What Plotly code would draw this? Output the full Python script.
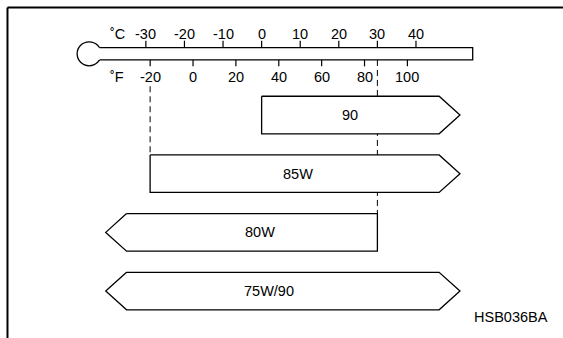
import plotly.graph_objects as go

# ---- data -------------------------------------------------------------
grades = ["90", "85W", "80W", "75W/90"]
low_c = [0.0, -28.9, -35.0, -35.0]      # left end of each bar body (°C); -28.9 °C = -20 °F
high_c = [46.0, 46.0, 30.0, 46.0]       # right end of each bar body (°C)
left_open = [False, False, True, True]  # arrow head on the left (open range)
right_open = [True, True, False, True]  # arrow head on the right (open range)
label_c = [23.0, 9.5, -0.5, 2.0]        # label position (°C)

c_ticks = [-30, -20, -10, 0, 10, 20, 30, 40]
f_ticks = [-20, 0, 20, 40, 60, 80, 100]
dash_c = [-28.9, 30.0]                  # guide lines: -20 °F and 30 °C

bulb_c = -44.7
tube_end_c = 54.7
therm_row = -1.043
code_text = "HSB036BA"

# ---- geometry (style) --------------------------------------------------
HEAD = 5.4      # arrow head length in °C
BH = 0.32       # bar half height in row units
TH = 0.104      # tube half height
FONT = dict(family="Liberation Sans, Arial, sans-serif", size=14.5, color="black")

def f2c(f):
    return (f - 32) * 5.0 / 9.0

fig = go.Figure()

# dashed guide lines (drawn first so bars cover them)
dash_tops = [-0.49, therm_row + TH]
dash_bottoms = [1 - BH, 2 - BH]
for xc, y0, y1 in zip(dash_c, dash_tops, dash_bottoms):
    fig.add_trace(go.Scatter(x=[xc, xc], y=[y0, y1], mode="lines",
                             line=dict(color="black", width=1, dash="6px,4px"),
                             hoverinfo="skip", showlegend=False))

# thermometer bulb
fig.add_trace(go.Scatter(x=[bulb_c], y=[therm_row], mode="markers",
                         marker=dict(size=24, color="white", line=dict(color="black", width=1.3)),
                         hoverinfo="skip", showlegend=False))
# tube fill (hides the bulb outline where the tube joins)
fig.add_trace(go.Scatter(x=[bulb_c, tube_end_c, tube_end_c, bulb_c, bulb_c],
                         y=[therm_row - TH, therm_row - TH, therm_row + TH, therm_row + TH, therm_row - TH],
                         mode="lines", fill="toself", fillcolor="white",
                         line=dict(width=0, color="white"), hoverinfo="skip", showlegend=False))
# tube outline
jx = bulb_c + 10.4 / 3.86
fig.add_trace(go.Scatter(x=[jx, tube_end_c, tube_end_c, jx],
                         y=[therm_row - TH, therm_row - TH, therm_row + TH, therm_row + TH],
                         mode="lines", line=dict(color="black", width=1.3),
                         hoverinfo="skip", showlegend=False))

# tick marks
tx, ty = [], []
for c in c_ticks:
    tx += [c, c, None]
    ty += [therm_row - TH, therm_row - TH - 0.12, None]
for f in f_ticks:
    tx += [f2c(f), f2c(f), None]
    ty += [therm_row + TH, therm_row + TH + 0.11, None]
fig.add_trace(go.Scatter(x=tx, y=ty, mode="lines", line=dict(color="black", width=1.2),
                         hoverinfo="skip", showlegend=False))

# tick labels
ann = []
for c in c_ticks:
    ann.append(dict(x=c, y=-1.38, text=str(c), showarrow=False, font=FONT,
                    xanchor="center", yanchor="middle"))
for f in f_ticks:
    ann.append(dict(x=f2c(f), y=-0.65, text=str(f), showarrow=False, font=FONT,
                    xanchor="center", yanchor="middle"))
ann.append(dict(x=-37.4, y=-1.38, text="˚C", showarrow=False, font=FONT))
ann.append(dict(x=-37.6, y=-0.65, text="˚F", showarrow=False, font=FONT))

# bars (arrow-shaped polygons)
for i, g in enumerate(grades):
    y = i
    xs = [low_c[i], high_c[i]]
    ys = [y - BH, y - BH]
    if right_open[i]:
        xs += [high_c[i] + HEAD]
        ys += [y]
    xs += [high_c[i], low_c[i]]
    ys += [y + BH, y + BH]
    if left_open[i]:
        xs += [low_c[i] - HEAD]
        ys += [y]
    xs += [low_c[i]]
    ys += [y - BH]
    fig.add_trace(go.Scatter(x=xs, y=ys, mode="lines", fill="toself", fillcolor="white",
                             line=dict(color="black", width=1.3),
                             hoverinfo="skip", showlegend=False, name=g))
    ann.append(dict(x=label_c[i], y=y, text=g, showarrow=False, font=FONT,
                    xanchor="center", yanchor="middle"))

ann.append(dict(x=0.907, y=0.061, xref="paper", yref="paper", text=code_text,
                showarrow=False, font=FONT, xanchor="center", yanchor="middle"))

fig.update_layout(
    width=563, height=338,
    margin=dict(l=0, r=0, t=0, b=0),
    paper_bgcolor="white", plot_bgcolor="white",
    hovermode=False,
    xaxis=dict(range=[-67.8, 78.1], visible=False, showgrid=False, zeroline=False),
    yaxis=dict(range=[3.80, -1.96], visible=False, showgrid=False, zeroline=False),
    annotations=ann,
    shapes=[
        dict(type="line", xref="paper", yref="paper", x0=0.0133, x1=1.0, y0=0.978, y1=0.978,
             line=dict(color="black", width=2)),
        dict(type="line", xref="paper", yref="paper", x0=0.0133, x1=0.0133, y0=0.0, y1=0.978,
             line=dict(color="black", width=2)),
    ],
)

fig.write_html("out.html", config={"displayModeBar": False, "staticPlot": True},
               post_script="document.body.style.margin='0px';document.body.style.overflow='hidden';")
